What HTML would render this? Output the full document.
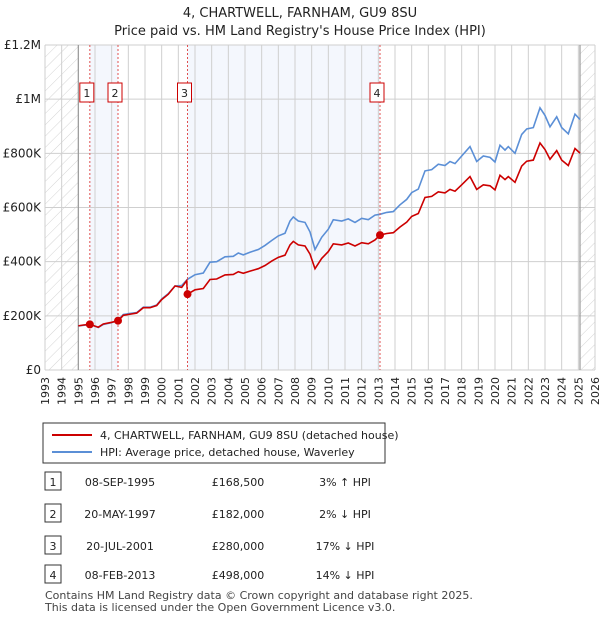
<!DOCTYPE html>
<html><head><meta charset="utf-8"><style>
body{margin:0;background:#fff;font-family:"Liberation Sans","DejaVu Sans",sans-serif;}
svg text{font-family:"DejaVu Sans","Liberation Sans",sans-serif;}
</style></head><body>
<svg id="c" width="600" height="620" xmlns="http://www.w3.org/2000/svg">
<defs><pattern id="hatch" width="8" height="8" patternUnits="userSpaceOnUse" patternTransform="rotate(45)"><line x1="0" y1="0" x2="0" y2="8" stroke="#d4d4d4" stroke-width="1"/></pattern></defs>
<text x="300" y="17" text-anchor="middle" font-size="13" fill="#222">4, CHARTWELL, FARNHAM, GU9 8SU</text>
<text x="300" y="35" text-anchor="middle" font-size="13" fill="#222">Price paid vs. HM Land Registry's House Price Index (HPI)</text>
<g id="plot"></g>
<g>
<rect x="43" y="423" width="342" height="40" fill="#fff" stroke="#333" stroke-width="1"/>
<line x1="52" y1="435" x2="92" y2="435" stroke="#cc0000" stroke-width="2"/>
<text x="100" y="439" font-size="11" fill="#222">4, CHARTWELL, FARNHAM, GU9 8SU (detached house)</text>
<line x1="52" y1="452" x2="92" y2="452" stroke="#5b8fd6" stroke-width="2"/>
<text x="100" y="456" font-size="11" fill="#222">HPI: Average price, detached house, Waverley</text>
</g>
<g id="table" font-size="11" fill="#222"></g>
<text x="45" y="599" font-size="11" fill="#444">Contains HM Land Registry data © Crown copyright and database right 2025.</text>
<text x="45" y="611" font-size="11" fill="#444">This data is licensed under the Open Government Licence v3.0.</text>
</svg>
<script>
const hpiYears=[1995.0,1995.3,1995.7,1996.0,1996.2,1996.5,1997.0,1997.4,1997.7,1998.0,1998.5,1998.9,1999.3,1999.7,2000.0,2000.4,2000.8,2001.2,2001.55,2002.0,2002.5,2002.9,2003.3,2003.8,2004.3,2004.6,2004.9,2005.3,2005.8,2006.2,2006.6,2007.0,2007.4,2007.7,2007.9,2008.2,2008.6,2008.9,2009.2,2009.6,2010.0,2010.3,2010.8,2011.2,2011.6,2012.0,2012.4,2012.8,2013.1,2013.5,2013.9,2014.3,2014.7,2015.0,2015.4,2015.8,2016.2,2016.6,2017.0,2017.3,2017.6,2018.0,2018.5,2018.9,2019.3,2019.7,2020.0,2020.3,2020.6,2020.8,2021.2,2021.6,2021.9,2022.3,2022.7,2023.0,2023.3,2023.7,2024.0,2024.4,2024.8,2025.1];
const hpiValues=[163,165,168,162,157,168,175,185,205,208,212,232,232,240,262,282,310,312,335,352,358,398,400,418,420,432,425,435,445,460,478,495,505,550,565,550,545,510,445,490,520,555,550,558,545,560,555,572,575,582,585,610,630,655,668,735,740,760,755,770,762,790,825,770,790,785,768,830,812,825,800,870,890,895,968,940,898,935,895,872,945,925];
const priceYears=[1995.0,1995.3,1995.7,1996.0,1996.2,1996.5,1997.0,1997.4,1997.7,1998.0,1998.5,1998.9,1999.3,1999.7,2000.0,2000.4,2000.8,2001.2,2001.5,2001.55,2002.0,2002.5,2002.9,2003.3,2003.8,2004.3,2004.6,2004.9,2005.3,2005.8,2006.2,2006.6,2007.0,2007.4,2007.7,2007.9,2008.2,2008.6,2008.9,2009.2,2009.6,2010.0,2010.3,2010.8,2011.2,2011.6,2012.0,2012.4,2012.8,2013.1,2013.5,2013.9,2014.3,2014.7,2015.0,2015.4,2015.8,2016.2,2016.6,2017.0,2017.3,2017.6,2018.0,2018.5,2018.9,2019.3,2019.7,2020.0,2020.3,2020.6,2020.8,2021.2,2021.6,2021.9,2022.3,2022.7,2023.0,2023.3,2023.7,2024.0,2024.4,2024.8,2025.1];
const priceValues=[163,166,168.5,162,158,170,176,182,202,205,210,230,230,238,260,280,310,305,330,280,296,301,334,336,351,353,363,357,365,374,386,402,416,424,462,475,462,458,428,374,412,437,466,462,469,458,470,466,480,498,504,507,528,546,567,578,637,641,658,654,667,660,684,714,667,684,680,665,719,703,714,693,753,771,775,838,814,778,810,775,755,818,801];
const saleLabels=["1","2","3","4"];
const saleYears=[1995.69,1997.38,2001.55,2013.1];
const salePrices=[168.5,182,280,498];
const saleDates=["08-SEP-1995","20-MAY-1997","20-JUL-2001","08-FEB-2013"];
const salePriceText=["£168,500","£182,000","£280,000","£498,000"];
const saleHpiText=["3% ↑ HPI","2% ↓ HPI","17% ↓ HPI","14% ↓ HPI"];
const yTicks=[0,200,400,600,800,1000,1200];
const yTickLabels=["£0","£200K","£400K","£600K","£800K","£1M","£1.2M"];

const X0=45,X1=595,Y0=370,Y1=45,yMin=1993,yMax=2026;
const x=t=>X0+(t-yMin)/(yMax-yMin)*(X1-X0);
const y=v=>Y0-v/1200*(Y0-Y1);
const NS="http://www.w3.org/2000/svg";
const plot=document.getElementById('plot');
function mk(tag,attrs,parent){const e=document.createElementNS(NS,tag);for(const k in attrs)e.setAttribute(k,attrs[k]);(parent||plot).appendChild(e);return e;}
let e;
e=mk('rect',{x:X0,y:Y1,width:X1-X0,height:Y0-Y1,fill:'#fff'});


[[0,1],[2,3]].forEach(p=>{const s=mk('rect',{x:x(saleYears[p[0]]),y:Y1,width:x(saleYears[p[1]])-x(saleYears[p[0]]),height:Y0-Y1,fill:'#eef3fc',opacity:0.65});

});
e=mk('rect',{x:X0,y:Y1,width:x(1995)-X0,height:Y0-Y1,fill:'url(#hatch)'});


e=mk('rect',{x:x(2025.1),y:Y1,width:X1-x(2025.1),height:Y0-Y1,fill:'url(#hatch)'});


for(let t=1993;t<=2026;t++){e=mk('line',{x1:x(t),x2:x(t),y1:Y1,y2:Y0,stroke:'#cfcfcf','stroke-width':1});


const tx=mk('text',{x:0,y:0,'font-size':11,fill:'#222','text-anchor':'end',transform:`translate(${x(t)+4},${Y0+7}) rotate(-90)`});
tx.textContent=t;

}
yTicks.forEach((v,i)=>{e=mk('line',{x1:X0,x2:X1,y1:y(v),y2:y(v),stroke:'#cfcfcf','stroke-width':1});


const tx=mk('text',{x:X0-4,y:y(v)+4,'font-size':12,fill:'#222','text-anchor':'end'});
tx.textContent=yTickLabels[i];

});
[1995,2025.1].forEach(t=>{e=mk('line',{x1:x(t),x2:x(t),y1:Y1,y2:Y0,stroke:'#999','stroke-width':1.2});

});
function path(xs,vs){return xs.map((t,i)=>(i?'L':'M')+x(t).toFixed(1)+','+y(vs[i]).toFixed(1)).join('');}
e=mk('path',{d:path(hpiYears,hpiValues),fill:'none',stroke:'#5b8fd6','stroke-width':1.6});


e=mk('path',{d:path(priceYears,priceValues),fill:'none',stroke:'#cc0000','stroke-width':1.6});


saleYears.forEach((t,i)=>{e=mk('line',{x1:x(t),x2:x(t),y1:Y1,y2:Y0,stroke:'#e05050','stroke-width':1,'stroke-dasharray':'2,2'});


const b=mk('rect',{x:x(t)-10,y:83,width:14,height:19,fill:'#fff',stroke:'#cc0000','stroke-width':1});


const tx=mk('text',{x:x(t)-3,y:97,'font-size':11,fill:'#222','text-anchor':'middle'});
tx.textContent=saleLabels[i];

});
saleYears.forEach((t,i)=>{e=mk('circle',{cx:x(t),cy:y(salePrices[i]),r:4,fill:'#cc0000'});

});
const tb=document.getElementById('table');
const rowY=[482,514,546,575];
saleLabels.forEach((l,i)=>{const ry=rowY[i];
const b=mk('rect',{x:45,y:ry-10,width:16,height:18,fill:'#fff',stroke:'#333','stroke-width':1},tb);


const cells=[[53,l,'middle'],[120,saleDates[i],'middle'],[238,salePriceText[i],'middle'],[345,saleHpiText[i],'middle']];
cells.forEach(c=>{const tx=mk('text',{x:c[0],y:ry+4,'text-anchor':c[2]},tb);tx.textContent=c[1];

});});
</script>
</body></html>
